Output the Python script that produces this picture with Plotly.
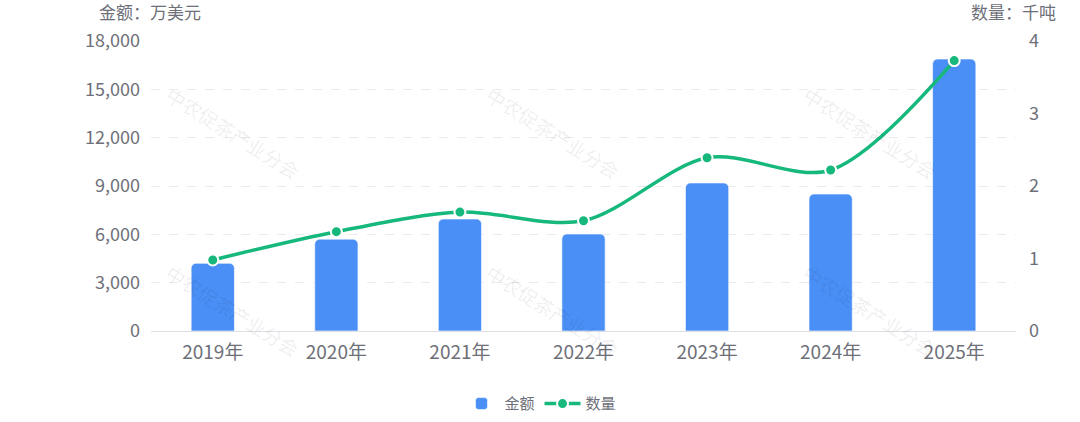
import plotly.graph_objects as go

years = ["2019年", "2020年", "2021年", "2022年", "2023年", "2024年", "2025年"]
amount = [4200, 5700, 6950, 6020, 9190, 8500, 16880]   # 万美元
volume = [0.98, 1.37, 1.64, 1.52, 2.39, 2.22, 3.73]    # 千吨

left_ticks = [0, 3000, 6000, 9000, 12000, 15000, 18000]
right_ticks = [0, 1, 2, 3, 4]

fig = go.Figure()

fig.add_trace(go.Bar(
    x=years, y=amount, name="金额", yaxis="y",
    marker=dict(color="#4a8ff6", cornerradius=5,
                line=dict(color="rgba(255,255,255,0.6)", width=1)),
    width=0.35,
))

fig.add_trace(go.Scatter(
    x=years, y=volume, name="数量", yaxis="y2",
    mode="lines+markers",
    line=dict(color="#16b87c", width=3.5, shape="spline", smoothing=0.9),
    marker=dict(size=11, color="#16b87c", line=dict(color="white", width=2)),
))

grey = "#6e7079"
font_family = "Noto Sans CJK SC, Noto Sans, sans-serif"

annotations = []
# watermark
wm_x = [0.095, 0.465, 0.831]
wm_y = [0.683, 0.072]
for yy in wm_y:
    for xx in wm_x:
        annotations.append(dict(
            text="中农促茶产业分会", x=xx, y=yy, xref="paper", yref="paper",
            xanchor="center", yanchor="middle",
            showarrow=False, textangle=32,
            font=dict(size=19, color="rgba(0,0,0,0.08)", family=font_family),
        ))
annotations.append(dict(text="金额：万美元", x=-0.063, y=1.1, xref="paper", yref="paper",
                        xanchor="left", yanchor="middle", showarrow=False,
                        font=dict(size=17, color=grey, family=font_family)))
annotations.append(dict(text="数量：千吨", x=1.049, y=1.1, xref="paper", yref="paper",
                        xanchor="right", yanchor="middle", showarrow=False,
                        font=dict(size=17, color=grey, family=font_family)))

fig.update_layout(
    width=1080, height=422,
    margin=dict(l=151, r=64, t=41, b=91, autoexpand=False),
    plot_bgcolor="white", paper_bgcolor="white",
    font=dict(family=font_family, color=grey),
    showlegend=True,
    legend=dict(orientation="h", xref="container", yref="container",
                x=0.5, xanchor="center", y=0.043, yanchor="middle",
                font=dict(size=15, color=grey), tracegroupgap=0, itemwidth=36),
    xaxis=dict(showgrid=False, showline=True, linecolor="#dcdfe6", linewidth=1,
               ticks="", tickfont=dict(size=19, color=grey), ticklabelstandoff=4,
               automargin=False),
    yaxis=dict(range=[0, 18000], tickvals=left_ticks, tickformat=",",
               showgrid=True, gridcolor="#e9ebef", griddash="dash", gridwidth=1,
               zeroline=False, showline=False, ticks="",
               tickfont=dict(size=18, color=grey), ticklabelstandoff=10,
               automargin=False),
    yaxis2=dict(range=[0, 4], tickvals=right_ticks, overlaying="y", side="right",
                showgrid=False, zeroline=False, showline=False, ticks="",
                tickfont=dict(size=18, color=grey), ticklabelstandoff=12,
                automargin=False),
    annotations=annotations,
)

fig.write_html("out.html", config={"displayModeBar": False},
               post_script="document.body.style.margin='0';document.body.style.padding='0';")
